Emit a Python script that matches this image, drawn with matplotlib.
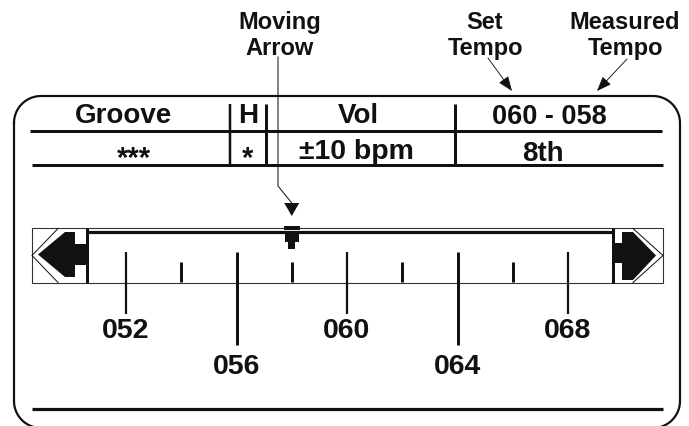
import matplotlib
matplotlib.use("Agg")
import numpy as np
import matplotlib.pyplot as plt
from matplotlib.patches import Polygon, Rectangle

# ---------------- data ----------------
header_labels = ["Groove", "H", "Vol"]
row_labels = ["***", "*", "±10 bpm", "8th"]
set_tempo = 60
measured_tempo = 58
scale_values = [52, 54, 56, 58, 60, 62, 64, 66, 68]
major_values = [52, 56, 60, 64, 68]
major_labels = ["052", "056", "060", "064", "068"]
callout_moving = ["Moving", "Arrow"]
callout_set = ["Set", "Tempo"]
callout_measured = ["Measured", "Tempo"]

# ---------------- layout ----------------
W, H = 689, 427
PX = 0.72  # px -> pt at dpi 100
INK = "#111111"
FONT = "Liberation Sans"

fig = plt.figure(figsize=(W / 100, H / 100), dpi=100)
ax = fig.add_axes([0, 0, 1, 1])
ax.set_xlim(0, W)
ax.set_ylim(H, 0)
ax.axis("off")


def xs(v):
    # scale position of a tempo value
    return 126 + (v - scale_values[0]) * 27.625


def hline(y, x0, x1, lw, color=INK):
    ax.plot([x0, x1], [y, y], color=color, lw=lw * PX, solid_capstyle="butt")


def vline(x, y0, y1, lw, color=INK):
    ax.plot([x, x], [y0, y1], color=color, lw=lw * PX, solid_capstyle="butt")


def txt(x, y, s, size, ha="center", va="baseline"):
    ax.text(x, y, s, fontsize=size, ha=ha, va=va, color=INK,
            fontfamily=FONT, fontweight="bold")


# outer rounded frame (built from straight edges and quarter arcs)
fx0, fx1, fy0, fy1, r = 14, 680, 97, 429, 27
t = np.linspace(0, np.pi / 2, 20)
px, py = [], []
# top-left
px += list(fx0 + r - r * np.cos(t)); py += list(fy0 + r - r * np.sin(t))
# top-right
px += list(fx1 - r + r * np.sin(t)); py += list(fy0 + r - r * np.cos(t))
# bottom-right
px += list(fx1 - r + r * np.cos(t)); py += list(fy1 - r + r * np.sin(t))
# bottom-left
px += list(fx0 + r - r * np.sin(t)); py += list(fy1 - r + r * np.cos(t))
px.append(px[0]); py.append(py[0])
ax.plot(px, py, color=INK, lw=2.2 * PX)

# header table lines
hline(132, 30, 662, 3)
hline(166, 32, 663, 3)
vline(230, 105, 166, 2.5)
vline(265.5, 105, 166, 3)
vline(455, 105, 166, 3)

# header texts
txt(124, 123, header_labels[0], 20)
txt(248, 123, header_labels[1], 20)
txt(358, 123, header_labels[2], 20)
txt(549, 123.5, f"{set_tempo:03d} - {measured_tempo:03d}", 19.5)

# second row texts
txt(134, 167, row_labels[0], 21)
txt(248, 167, row_labels[1], 21)
txt(356, 159.5, row_labels[2], 20.5)
txt(543, 161, row_labels[3], 20)

# callout texts
for x, lines in [(280, callout_moving), (485, callout_set), (625, callout_measured)]:
    txt(x, 29, lines[0], 17)
    txt(x, 55, lines[1], 17)

# callout arrows for set / measured tempo
for (x0, y0), (x1, y1) in [((488, 59), (512, 92)), ((627, 60), (597, 92))]:
    ax.annotate("", xy=(x1, y1), xytext=(x0, y0),
                arrowprops=dict(arrowstyle="-|>,head_length=0.9,head_width=0.35",
                                color=INK, lw=0.9 * PX, shrinkA=0, shrinkB=0))

# moving arrow leader
mx = xs(measured_tempo)
ax.plot([278, 278, mx], [58, 187, 204], color=INK, lw=1.0 * PX)
ax.add_patch(Polygon([(mx - 7.5, 204), (mx + 7.5, 204), (mx, 217)],
                     closed=True, fc=INK, ec="none"))

# bar box (thin outline)
ax.add_patch(Rectangle((32, 229), 631, 55, fc="none", ec="#333333", lw=1.1 * PX))
# thick top rail
hline(232.8, 86, 613, 3.2)
# dividers
vline(86.5, 229, 284, 3)
vline(612.5, 229, 284, 3)

# left arrow block
ax.plot([58, 32, 58], [229.5, 256.5, 283.5], color=INK, lw=1.0 * PX)
ax.add_patch(Polygon([(38, 255.5), (65, 233), (75, 233), (75, 245), (86, 245),
                      (86, 266), (75, 266), (75, 278), (65, 278)],
                     closed=True, fc=INK, ec="none"))
# right arrow block
ax.plot([633, 663, 633], [229.5, 256.5, 283.5], color=INK, lw=1.0 * PX)
ax.add_patch(Polygon([(656, 256.5), (633, 233), (622, 233), (622, 244), (613, 244),
                      (613, 264), (622, 264), (622, 281), (633, 281)],
                     closed=True, fc=INK, ec="none"))

# scale ticks and labels
for v in scale_values:
    x = xs(v)
    if v in major_values:
        i = major_values.index(v)
        if i % 2 == 0:
            vline(x, 253, 315, 2.2)
            txt(x, 338, major_labels[i], 20.5)
        else:
            vline(x, 253, 346, 3)
            txt(x, 374, major_labels[i], 20.5)
    else:
        vline(x, 263, 283, 3)

# moving arrow marker on rail
ax.add_patch(Rectangle((mx - 8, 227), 16, 3.6, fc=INK, ec="none", zorder=5))
ax.add_patch(Rectangle((mx - 7, 232), 14, 11, fc=INK, ec="none", zorder=5))
ax.add_patch(Rectangle((mx - 3.5, 243), 7, 7, fc=INK, ec="none", zorder=5))

# bottom rule
hline(410, 32, 663, 3.2)

fig.savefig("out.png", dpi=100)
